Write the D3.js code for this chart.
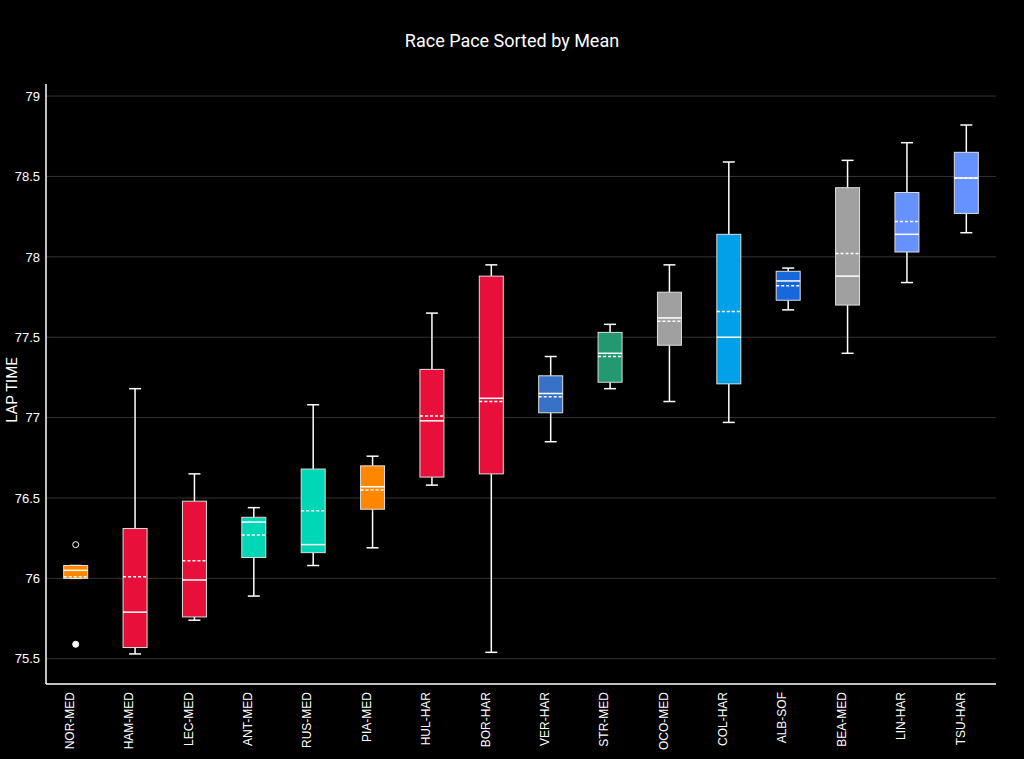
<!DOCTYPE html>
<html><head><meta charset="utf-8">
<script src="https://cdn.jsdelivr.net/npm/d3@7"></script>
<style>body{margin:0;background:#000;}svg{display:block;font-family:Roboto,"Noto Sans",sans-serif;}</style>
</head><body><svg id="c" width="1024" height="759"></svg>
<script>
var drivers = ["NOR-MED","HAM-MED","LEC-MED","ANT-MED","RUS-MED","PIA-MED","HUL-HAR","BOR-HAR","VER-HAR","STR-MED","OCO-MED","COL-HAR","ALB-SOF","BEA-MED","LIN-HAR","TSU-HAR"];
var lowW  = [76.00,75.53,75.74,75.89,76.08,76.19,76.58,75.54,76.85,77.18,77.10,76.97,77.67,77.40,77.84,78.15];
var q1    = [76.00,75.57,75.76,76.13,76.16,76.43,76.63,76.65,77.03,77.22,77.45,77.21,77.73,77.70,78.03,78.27];
var med   = [76.05,75.79,75.99,76.35,76.21,76.57,76.98,77.12,77.15,77.40,77.62,77.50,77.85,77.88,78.14,78.49];
var q3    = [76.08,76.31,76.48,76.38,76.68,76.70,77.30,77.88,77.26,77.53,77.78,78.14,77.91,78.43,78.40,78.65];
var highW = [76.08,77.18,76.65,76.44,77.08,76.76,77.65,77.95,77.38,77.58,77.95,78.59,77.93,78.60,78.71,78.82];
var means = [76.01,76.01,76.11,76.27,76.42,76.55,77.01,77.10,77.13,77.38,77.60,77.66,77.82,78.02,78.22,78.49];
var colors = ["#ff8700","#e8103a","#e8103a","#00d7b6","#00d7b6","#ff8700","#e8103a","#e8103a","#3671c6","#229971","#a0a0a0","#00a1e8","#1868db","#a0a0a0","#6692ff","#6692ff"];
var outliers = [{i:0, v:76.21, fill:false},{i:0, v:75.59, fill:true}];
var yTicks = [75.5,76,76.5,77,77.5,78,78.5,79];

var svg = d3.select("#c");
var x = d3.scaleBand().domain(drivers).range([46,996]).padding(0);
var y = d3.scaleLinear().domain([75.343,79.075]).range([684,84]);
var bw = 24;

svg.append("text").attr("x",512).attr("y",47).attr("text-anchor","middle")
  .attr("fill","#fff").attr("font-size",18).text("Race Pace Sorted by Mean");

var ya = svg.append("g").attr("transform","translate(46,0)")
  .call(d3.axisLeft(y).tickValues(yTicks).tickSize(0).tickPadding(6).tickFormat(d3.format("")));
ya.select(".domain").remove();
ya.selectAll("text").attr("fill","#fff").attr("font-size",13);
svg.selectAll("line.grid").data(yTicks).enter().append("line").attr("class","grid")
  .attr("x1",46).attr("x2",996).attr("y1",function(d){return y(d);}).attr("y2",function(d){return y(d);})
  .attr("stroke","#333").attr("stroke-width",1);

svg.append("line").attr("x1",46).attr("x2",46).attr("y1",84).attr("y2",684).attr("stroke","#fff").attr("stroke-width",1.5);
svg.append("line").attr("x1",46).attr("x2",996).attr("y1",684).attr("y2",684).attr("stroke","#fff").attr("stroke-width",1.5);

var xa = svg.append("g").attr("transform","translate(0,684)").call(d3.axisBottom(x).tickSize(0));
xa.select(".domain").remove();
xa.selectAll("text").attr("fill","#fff").attr("font-size",12)
  .attr("transform","rotate(-90)").attr("text-anchor","end").attr("dx","-8").attr("dy","-0.4em");

svg.append("text").attr("transform","translate(17,390) rotate(-90)").attr("text-anchor","middle")
  .attr("fill","#fff").attr("font-size",15).text("LAP TIME");

var g = svg.selectAll("g.box").data(drivers).enter().append("g").attr("class","box");
g.each(function(d,i){
  var s = d3.select(this), cx = x(d) + x.bandwidth()/2;
  s.append("line").attr("x1",cx).attr("x2",cx).attr("y1",y(highW[i])).attr("y2",y(q3[i])).attr("stroke","#fff").attr("stroke-width",1.5);
  s.append("line").attr("x1",cx).attr("x2",cx).attr("y1",y(q1[i])).attr("y2",y(lowW[i])).attr("stroke","#fff").attr("stroke-width",1.5);
  [highW[i],lowW[i]].forEach(function(v){
    s.append("line").attr("x1",cx-6).attr("x2",cx+6).attr("y1",y(v)).attr("y2",y(v)).attr("stroke","#fff").attr("stroke-width",1.5);
  });
  s.append("rect").attr("x",cx-bw/2).attr("width",bw).attr("y",y(q3[i])).attr("height",Math.max(1,y(q1[i])-y(q3[i])))
    .attr("fill",colors[i]).attr("stroke","#ddd").attr("stroke-width",1);
  s.append("line").attr("x1",cx-bw/2).attr("x2",cx+bw/2).attr("y1",y(med[i])).attr("y2",y(med[i])).attr("stroke","#fff").attr("stroke-width",1.5);
  s.append("line").attr("x1",cx-bw/2).attr("x2",cx+bw/2).attr("y1",y(means[i])).attr("y2",y(means[i])).attr("stroke","#fff").attr("stroke-width",1.5).attr("stroke-dasharray","3,2");
});
svg.selectAll("circle.out").data(outliers).enter().append("circle").attr("class","out")
  .attr("cx",function(d){return x(drivers[d.i])+x.bandwidth()/2;}).attr("cy",function(d){return y(d.v);})
  .attr("r",3).attr("fill",function(d){return d.fill?"#fff":"none";}).attr("stroke","#fff").attr("stroke-width",1);
</script></body></html>
